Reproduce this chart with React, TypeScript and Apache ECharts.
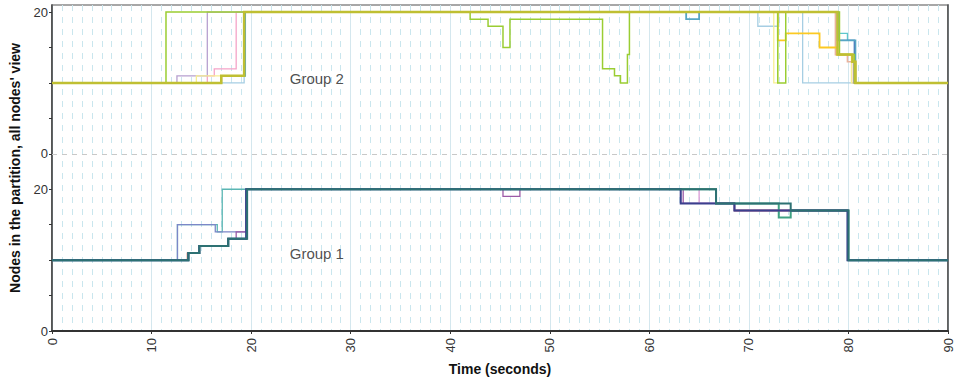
import React, { useEffect, useRef } from "react";
import * as echarts from "echarts";

// ---- axes ----
const X_MIN = 0;
const X_MAX = 90;
const X_INTERVAL = 10;
const Y_MIN = 0;
const Y_MAX = 46;
const GROUP2_OFFSET = 25; // group 2 panel sits above group 1 on the shared axis
const yTickValues = [0, 5, 10, 15, 20, 25, 30, 35, 40, 45];
const yLabelValues = [0, 20, 25, 45];
const yLabelTexts = ["0", "20", "0", "20"];
const panelSeparator = 25;

// ---- Group 1 (bottom panel): [time, nodes] step changes ----
const g1Teal = [[0, 10], [12.6, 15], [16.6, 14], [17.1, 20], [66.7, 18], [68.55, 17], [79.95, 10], [90, 10]];
const g1Slate = [[0, 10], [12.6, 15], [16.4, 14], [19.5, 20], [63.15, 18], [68.55, 17], [79.95, 10], [90, 10]];
const g1Purple = [[0, 10], [13.7, 11], [14.8, 12], [17.7, 13], [18.5, 14], [19.5, 20], [45.3, 19], [47.0, 20], [63.4, 18], [68.55, 17], [79.95, 10], [90, 10]];
const g1Orange = [[0, 10], [13.6, 11], [14.8, 12], [17.7, 13], [19.55, 20], [66.7, 18], [68.55, 17], [79.95, 10], [90, 10]];
const g1Pink = [[0, 10], [13.7, 11], [14.8, 12], [17.7, 13], [19.55, 20], [65.0, 18], [68.55, 17], [79.95, 10], [90, 10]];
const g1Green = [[0, 10], [13.7, 11], [14.8, 12], [17.7, 13], [19.55, 20], [66.7, 18], [73.0, 16], [74.2, 17], [80.0, 10], [90, 10]];
const g1Navy = [[0, 10], [13.7, 11], [14.8, 12], [17.7, 13], [19.5, 20], [63.15, 18], [68.55, 17], [79.9, 10], [90, 10]];
const g1Main = [[0, 10], [13.7, 11], [14.8, 12], [17.7, 13], [19.6, 20], [66.7, 18], [74.2, 17], [80.0, 10], [90, 10]];

// ---- Group 2 (top panel): [time, nodes] step changes ----
const g2LightBlue = [[0, 10], [19.3, 20], [70.9, 18], [73.0, 20], [75.4, 10], [90, 10]];
const g2Pink = [[0, 10], [15.6, 11], [16.3, 12], [18.5, 20], [78.9, 14], [80.4, 13], [80.7, 10], [90, 10]];
const g2Purple = [[0, 10], [12.55, 11], [15.6, 20], [78.9, 14], [80.4, 13], [80.7, 10], [90, 10]];
const g2PaleYellow = [[0, 10], [14.5, 11], [19.4, 20], [72.5, 10], [72.9, 20], [78.7, 14], [80.3, 10], [90, 10]];
const g2Salmon = [[0, 10], [17.0, 11], [19.3, 20], [78.7, 14], [79.9, 13], [80.5, 10], [90, 10]];
const g2Cyan = [[0, 10], [17.0, 11], [19.3, 20], [78.9, 17], [79.9, 16], [80.6, 10], [90, 10]];
const g2Indigo = [[0, 10], [17.0, 11], [19.3, 20], [78.9, 16], [80.6, 10], [90, 10]];
const g2Teal = [[0, 10], [17.0, 11], [19.4, 20], [63.7, 19], [65.0, 20], [79.0, 16], [80.7, 10], [90, 10]];
const g2Gold = [[0, 10], [17.0, 11], [19.3, 20], [72.9, 16], [73.7, 17], [77.1, 15], [78.9, 14], [80.4, 13], [80.7, 10], [90, 10]];
const g2Green = [[0, 10], [11.45, 20], [42.0, 19], [43.8, 18], [45.3, 15], [46.0, 19], [55.3, 12], [56.5, 11], [57.1, 10], [57.8, 14], [58.0, 20], [72.9, 10], [73.7, 20], [79.1, 14], [80.6, 10], [90, 10]];
const g2Olive = [[0, 10], [17.0, 11], [19.3, 20], [78.9, 14], [80.4, 13], [80.7, 10], [90, 10]];

// ---- panel labels: [time, panel value, text, panel offset] ----
const groupLabels = [
  { t: 26.6, v: 10.6, text: "Group 2", offset: GROUP2_OFFSET },
  { t: 26.6, v: 11.0, text: "Group 1", offset: 0 },
];

const FONT = "'Liberation Sans', Arial, Helvetica, sans-serif";

function stepSeries(name: string, pts: number[][], color: string, width: number, offset: number) {
  return {
    type: "line",
    name,
    step: "end",
    symbol: "none",
    silent: true,
    data: pts.map(([t, v]) => [t, v + offset]),
    lineStyle: { color, width, join: "miter", cap: "butt" },
    itemStyle: { color },
  };
}

export default function App() {
  const ref = useRef<HTMLDivElement>(null);

  useEffect(() => {
    if (!ref.current) return;
    const chart = echarts.init(ref.current, undefined, { renderer: "svg" });

    const series: any[] = [
      // Group 2
      stepSeries("g2LightBlue", g2LightBlue, "#a6cee3", 1.3, GROUP2_OFFSET),
      stepSeries("g2Pink", g2Pink, "#f5a3c7", 1.3, GROUP2_OFFSET),
      stepSeries("g2Purple", g2Purple, "#b7a0cf", 1.3, GROUP2_OFFSET),
      stepSeries("g2PaleYellow", g2PaleYellow, "#f7ef92", 1.3, GROUP2_OFFSET),
      stepSeries("g2Salmon", g2Salmon, "#eab39e", 1.6, GROUP2_OFFSET),
      stepSeries("g2Cyan", g2Cyan, "#5fc7cd", 1.3, GROUP2_OFFSET),
      stepSeries("g2Indigo", g2Indigo, "#5262b8", 1.3, GROUP2_OFFSET),
      stepSeries("g2Teal", g2Teal, "#55a6c4", 1.8, GROUP2_OFFSET),
      stepSeries("g2Gold", g2Gold, "#fcc922", 1.8, GROUP2_OFFSET),
      stepSeries("g2Green", g2Green, "#9acd32", 1.5, GROUP2_OFFSET),
      stepSeries("g2Olive", g2Olive, "#bfbf32", 2.5, GROUP2_OFFSET),
      // Group 1
      stepSeries("g1Teal", g1Teal, "#5bb6b3", 1.3, 0),
      stepSeries("g1Slate", g1Slate, "#7c87c8", 1.3, 0),
      stepSeries("g1Purple", g1Purple, "#9c5aa6", 1.3, 0),
      stepSeries("g1Orange", g1Orange, "#e4572e", 1.3, 0),
      stepSeries("g1Pink", g1Pink, "#dc9ad6", 1.3, 0),
      stepSeries("g1Green", g1Green, "#3fa283", 2, 0),
      stepSeries("g1Navy", g1Navy, "#3b3f8e", 2, 0),
      stepSeries("g1Main", g1Main, "#2d7173", 2, 0),
    ];

    // panel separator
    series[0].markLine = {
      silent: true,
      symbol: "none",
      label: { show: false },
      lineStyle: { type: [5, 5], color: "#c8c8c8", width: 1 },
      data: [{ yAxis: panelSeparator }],
    };

    series.push({
      type: "scatter",
      silent: true,
      symbol: "circle",
      symbolSize: 1,
      itemStyle: { color: "rgba(0,0,0,0)" },
      data: groupLabels.map((g) => ({ value: [g.t, g.v + g.offset], name: g.text })),
      label: {
        show: true,
        position: "inside",
        formatter: (p: any) => p.name,
        fontSize: 15,
        fontFamily: FONT,
        color: "#222",
      },
      z: 10,
    });

    chart.setOption({
      animation: false,
      backgroundColor: "#ffffff",
      grid: {
        left: 52,
        right: 8,
        top: 5,
        bottom: 50,
        show: true,
        borderColor: "#8a8a8a",
        borderWidth: 1.5,
        backgroundColor: "transparent",
      },
      xAxis: {
        type: "value",
        min: X_MIN,
        max: X_MAX,
        interval: X_INTERVAL,
        name: "Time (seconds)",
        nameLocation: "middle",
        nameGap: 31,
        nameTextStyle: { fontSize: 14, fontWeight: "bold", fontFamily: FONT, color: "#111" },
        axisLine: { show: true, onZero: false, lineStyle: { color: "#333", width: 2 } },
        axisTick: { show: true, length: 3, lineStyle: { color: "#333", width: 1 } },
        axisLabel: { rotate: 90, margin: 7, fontSize: 13, fontFamily: FONT, color: "#333" },
        splitLine: { show: true, lineStyle: { color: "#d4e7ee", width: 1 } },
        minorTick: { show: false, splitNumber: 10 },
        minorSplitLine: { show: true, lineStyle: { color: "#c9e6ee", width: 1, type: [6, 6] } },
      },
      yAxis: [
        {
          type: "value",
          min: Y_MIN,
          max: Y_MAX,
          name: "Nodes in the partition, all nodes' view",
          nameLocation: "middle",
          nameGap: 30,
          nameTextStyle: { fontSize: 14, fontWeight: "bold", fontFamily: FONT, color: "#111" },
          axisLine: { show: true, onZero: false, lineStyle: { color: "#3a3a3a", width: 1.5 } },
          axisTick: { show: true, length: 3, customValues: yTickValues, lineStyle: { color: "#333", width: 1 } },
          axisLabel: {
            margin: 4,
            fontSize: 13,
            fontFamily: FONT,
            color: "#333",
            customValues: yLabelValues,
            formatter: (v: number) => {
              const i = yLabelValues.indexOf(v);
              return i >= 0 ? yLabelTexts[i] : "";
            },
          },
          splitLine: { show: false },
        },
        {
          type: "value",
          position: "right",
          min: Y_MIN,
          max: Y_MAX,
          axisLine: { show: true, onZero: false, lineStyle: { color: "#4a4a4a", width: 1.5 } },
          axisTick: { show: false },
          axisLabel: { show: false },
          splitLine: { show: false },
        },
      ],
      series,
    });

    return () => chart.dispose();
  }, []);

  return (
    <div
      ref={ref}
      style={{ position: "absolute", left: 0, top: 0, width: 956, height: 381, background: "#fff" }}
    />
  );
}
